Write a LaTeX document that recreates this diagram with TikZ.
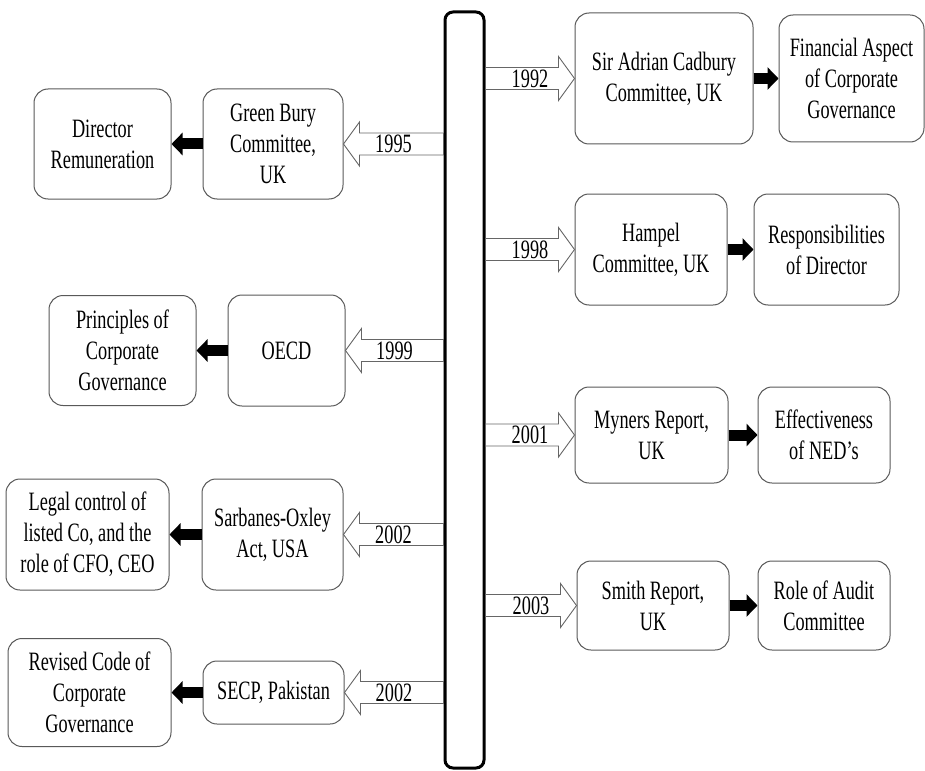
\documentclass[tikz,border=0pt]{standalone}
\usepackage{fontspec}
\setmainfont{Liberation Serif}[FakeStretch=0.69]
\usetikzlibrary{positioning}
\usetikzlibrary{calc}
\usetikzlibrary{arrows.meta}
\tikzset{
    mybox/.style = {rectangle, rounded corners=14pt, draw=black!65, line width=1pt, align=center, fill=white, inner sep=2pt, font=\fontsize{26.5}{31}\selectfont, text=black},
    mybar/.style = {rectangle, rounded corners=8pt, draw=black, line width=3pt, minimum width=39pt, minimum height=756pt, inner sep=0pt},
    myyear/.style = {inner sep=0pt, font=\fontsize{26.5}{31}\selectfont, text=black},
    edgehollow/.style = {draw=black!60, fill=white, line width=0.9pt,
      to path={let \p1=(\tikztostart), \p2=(\tikztotarget), \p3=($(\tikztotarget)!16pt!(\tikztostart)$) in
        (\x1,\y1+11pt) -- (\x3,\y1+11pt) -- (\x3,\y1+22pt) -- (\x2,\y2) -- (\x3,\y1-22pt) -- (\x3,\y1-11pt) -- (\x1,\y1-11pt) -- cycle}}, % year
    edgeblack/.style = {line width=11pt, black, -{Triangle[length=11pt,width=22pt]}}, % outcome
}

\begin{document}
\begin{tikzpicture}[x=1pt, y=-1pt]
  \useasboundingbox (0,0) rectangle (925,770);
  \node[mybar] (bar) at (464.5,390) {};

  % right side
  \node[mybox, minimum width=178pt, minimum height=131pt] (cad) at (664,78.5) {Sir Adrian Cadbury\\Committee, UK};
  \node[mybox, minimum width=145pt, minimum height=127pt, right=25pt of cad] (fin) {Financial Aspect\\of Corporate\\Governance};
  \node[mybox, minimum width=152pt, minimum height=111pt] (ham) at (651,249.5) {Hampel\\Committee, UK};
  \node[mybox, minimum width=145pt, minimum height=111pt, right=26pt of ham] (resp) {Responsibilities\\of Director};
  \node[mybox, minimum width=153pt, minimum height=96pt] (myn) at (651.5,435) {Myners Report,\\UK};
  \node[mybox, minimum width=132pt, minimum height=96pt, right=29pt of myn] (eff) {Effectiveness\\of NED’s};
  \node[mybox, minimum width=152pt, minimum height=89pt] (smith) at (653,605.5) {Smith Report,\\UK};
  \node[mybox, minimum width=132pt, minimum height=89pt, right=28pt of smith] (role) {Role of Audit\\Committee};

  % left side
  \node[mybox, minimum width=140pt, minimum height=110pt] (gb) at (273,144) {Green Bury\\Committee,\\UK};
  \node[mybox, minimum width=137pt, minimum height=110pt, left=31pt of gb] (dir) {Director\\Remuneration};
  \node[mybox, minimum width=117pt, minimum height=111pt] (oecd) at (286.5,350.5) {OECD};
  \node[mybox, minimum width=147pt, minimum height=110pt, left=31pt of oecd] (prin) {Principles of\\Corporate\\Governance};
  \node[mybox, minimum width=141pt, minimum height=111pt] (sox) at (272.5,534.5) {Sarbanes-Oxley\\Act, USA};
  \node[mybox, minimum width=163pt, minimum height=111pt, left=32pt of sox] (legal) {Legal control of\\listed Co, and the\\role of CFO, CEO};
  \node[mybox, minimum width=141pt, minimum height=63pt] (secp) at (273.5,692.5) {SECP, Pakistan};
  \node[mybox, minimum width=163pt, minimum height=108pt, left=31pt of secp] (rev) {Revised Code of\\Corporate\\Governance};

  \draw[edgehollow] (bar.east |- cad.west) to (cad.west);
  \draw[edgehollow] (bar.east |- ham.west) to (ham.west);
  \draw[edgehollow] (bar.east |- myn.west) to (myn.west);
  \draw[edgehollow] (bar.east |- smith.west) to (smith.west);
  \draw[edgehollow] (bar.west |- gb.east) to (gb.east);
  \draw[edgehollow] (bar.west |- oecd.east) to (oecd.east);
  \draw[edgehollow] (bar.west |- sox.east) to (sox.east);
  \draw[edgehollow] (bar.west |- secp.east) to (secp.east);

  \node[myyear] (y1992) at ($(bar.east |- cad.west)!.5!(cad.west)$) {1992};
  \node[myyear] (y1998) at ($(bar.east |- ham.west)!.5!(ham.west)$) {1998};
  \node[myyear] (y2001) at ($(bar.east |- myn.west)!.5!(myn.west)$) {2001};
  \node[myyear] (y2003) at ($(bar.east |- smith.west)!.5!(smith.west)$) {2003};
  \node[myyear] (y1995) at ($(bar.west |- gb.east)!.5!(gb.east)$) {1995};
  \node[myyear] (y1999) at ($(bar.west |- oecd.east)!.5!(oecd.east)$) {1999};
  \node[myyear] (y2002a) at ($(bar.west |- sox.east)!.5!(sox.east)$) {2002};
  \node[myyear] (y2002b) at ($(bar.west |- secp.east)!.5!(secp.east)$) {2002};

  \draw[edgeblack] (cad) -- (fin);
  \draw[edgeblack] (ham) -- (resp);
  \draw[edgeblack] (myn) -- (eff);
  \draw[edgeblack] (smith) -- (role);
  \draw[edgeblack] (gb) -- (dir);
  \draw[edgeblack] (oecd) -- (prin);
  \draw[edgeblack] (sox) -- (legal);
  \draw[edgeblack] (secp) -- (rev);
\end{tikzpicture}
\end{document}
